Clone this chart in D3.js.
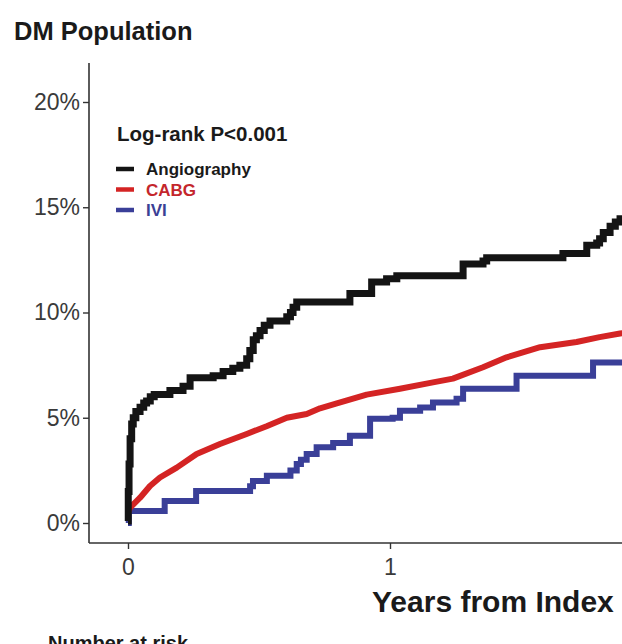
<!DOCTYPE html>
<html>
<head>
<meta charset="utf-8">
<script src="https://cdn.jsdelivr.net/npm/d3@7"></script>
<style>
  body { margin: 0; background: #fff; overflow: hidden; }
  svg { font-family: "Liberation Sans", Arial, sans-serif; display: block; }
</style>
</head>
<body>
<svg id="chart" width="622" height="644"></svg>
<script>
// cumulative incidence (%), by years from index
var angioYears = [0, 0.001, 0.004, 0.008, 0.014, 0.02, 0.03, 0.046, 0.06, 0.071, 0.085, 0.1, 0.16, 0.21, 0.237, 0.325, 0.363, 0.4, 0.427, 0.453, 0.465, 0.478, 0.49, 0.504, 0.52, 0.542, 0.606, 0.62, 0.63, 0.644, 0.835, 0.847, 0.911, 0.93, 0.987, 1.026, 1.254, 1.279, 1.355, 1.369, 1.649, 1.66, 1.737, 1.751, 1.789, 1.8, 1.814, 1.84, 1.86, 1.878, 1.95];
var angioPct = [0.1, 1.5, 2.8, 4.0, 4.7, 5.0, 5.3, 5.5, 5.7, 5.8, 6.0, 6.1, 6.3, 6.5, 6.9, 7.0, 7.2, 7.35, 7.5, 7.8, 8.2, 8.7, 8.9, 9.15, 9.4, 9.6, 9.8, 10.0, 10.25, 10.5, 10.5, 10.9, 10.9, 11.45, 11.6, 11.75, 11.75, 12.3, 12.45, 12.6, 12.6, 12.8, 12.8, 13.2, 13.3, 13.5, 13.8, 14.1, 14.3, 14.45, 14.6];

var cabgYears = [0, 0.008, 0.046, 0.084, 0.122, 0.186, 0.262, 0.351, 0.453, 0.529, 0.606, 0.682, 0.733, 0.797, 0.911, 1.038, 1.164, 1.24, 1.355, 1.445, 1.573, 1.712, 1.8, 1.878, 1.95];
var cabgPct = [0.5, 0.73, 1.2, 1.76, 2.16, 2.63, 3.28, 3.75, 4.23, 4.6, 5.0, 5.18, 5.45, 5.68, 6.1, 6.38, 6.68, 6.86, 7.4, 7.87, 8.35, 8.6, 8.83, 9.0, 9.15];

var iviYears = [0, 0.003, 0.14, 0.26, 0.466, 0.477, 0.53, 0.62, 0.644, 0.66, 0.682, 0.72, 0.783, 0.847, 0.924, 1.01, 1.038, 1.115, 1.164, 1.254, 1.279, 1.483, 1.775, 1.95];
var iviPct = [0, 0.57, 1.05, 1.52, 1.75, 2.0, 2.24, 2.5, 2.8, 3.0, 3.28, 3.6, 3.8, 4.14, 4.95, 5.0, 5.33, 5.49, 5.73, 5.9, 6.38, 7.0, 7.63, 7.63];

var yTicks = [0, 5, 10, 15, 20];
var xTicks = [0, 1];
var groups = ["Angiography", "CABG", "IVI"];
var colors = ["#141414", "#d42424", "#3a3f98"];
var textColors = ["#1a1a1a", "#c4262c", "#3b3f95"];

var svg = d3.select("#chart");

// scales: year 0 at x=128, year 1 at x=390; 0% at y=523, 20% at y=102
var x = d3.scaleLinear().domain([0, 1]).range([128, 390]);
var y = d3.scaleLinear().domain([0, 20]).range([523, 102]);

var axisLeft = 89, axisBottom = 543, axisTop = 63;

// y axis
var yAxis = svg.append("g")
  .attr("transform", "translate(" + axisLeft + ",0)")
  .call(d3.axisLeft(y).tickValues(yTicks).tickSize(6).tickPadding(3)
    .tickFormat(function (d) { return d + "%"; }));
yAxis.select(".domain").remove();
yAxis.append("line")
  .attr("x1", 0).attr("x2", 0).attr("y1", axisTop).attr("y2", axisBottom)
  .attr("stroke", "#333").attr("stroke-width", 1.6);

// x axis
var xAxis = svg.append("g")
  .attr("transform", "translate(0," + axisBottom + ")")
  .call(d3.axisBottom(x).tickValues(xTicks).tickSize(6).tickPadding(10)
    .tickFormat(d3.format("d")));
xAxis.select(".domain").remove();
xAxis.append("line")
  .attr("x1", axisLeft).attr("x2", 622).attr("y1", 0).attr("y2", 0)
  .attr("stroke", "#333").attr("stroke-width", 1.6);

svg.selectAll(".tick line").attr("stroke", "#333").attr("stroke-width", 1.4);
svg.selectAll(".tick text")
  .attr("fill", "#3a3a3a")
  .style("font-size", "23px")
  .style("font-family", "'Liberation Sans', Arial, sans-serif");

// curves
var stepLine = d3.line()
  .x(function (d) { return x(d[0]); })
  .y(function (d) { return y(d[1]); })
  .curve(d3.curveStepAfter);
var smoothLine = d3.line()
  .x(function (d) { return x(d[0]); })
  .y(function (d) { return y(d[1]); });

function pairs(a, b) { return a.map(function (v, i) { return [v, b[i]]; }); }

svg.append("path")
  .attr("d", stepLine(pairs(iviYears, iviPct)))
  .attr("fill", "none").attr("stroke", colors[2]).attr("stroke-width", 6);
svg.append("path")
  .attr("d", smoothLine(pairs(cabgYears, cabgPct)))
  .attr("fill", "none").attr("stroke", colors[1]).attr("stroke-width", 6)
  .attr("stroke-linejoin", "round");
svg.append("path")
  .attr("d", stepLine(pairs(angioYears, angioPct)))
  .attr("fill", "none").attr("stroke", colors[0]).attr("stroke-width", 7);

// title
svg.append("text")
  .attr("x", 14).attr("y", 40)
  .attr("fill", "#1a1a1a")
  .style("font-size", "25.5px").style("font-weight", "bold")
  .text("DM Population");

// legend
svg.append("text")
  .attr("x", 117).attr("y", 141)
  .attr("fill", "#1a1a1a")
  .style("font-size", "20.5px").style("font-weight", "bold")
  .text("Log-rank P<0.001");

var legend = svg.selectAll(".leg")
  .data(groups).enter().append("g")
  .attr("transform", function (d, i) { return "translate(0," + (175 + i * 20.5) + ")"; });
legend.append("line")
  .attr("x1", 116).attr("x2", 134).attr("y1", -6).attr("y2", -6)
  .attr("stroke", function (d, i) { return colors[i]; })
  .attr("stroke-width", 4.5);
legend.append("text")
  .attr("x", 146).attr("y", 0)
  .attr("fill", function (d, i) { return textColors[i]; })
  .style("font-size", "17px").style("font-weight", "bold")
  .text(function (d) { return d; });

// axis title and risk table heading
svg.append("text")
  .attr("x", 372).attr("y", 612)
  .attr("fill", "#1a1a1a")
  .style("font-size", "30px").style("font-weight", "bold")
  .text("Years from Index");

svg.append("text")
  .attr("x", 48).attr("y", 650)
  .attr("fill", "#1a1a1a")
  .style("font-size", "20px").style("font-weight", "bold")
  .text("Number at risk");
</script>
</body>
</html>
